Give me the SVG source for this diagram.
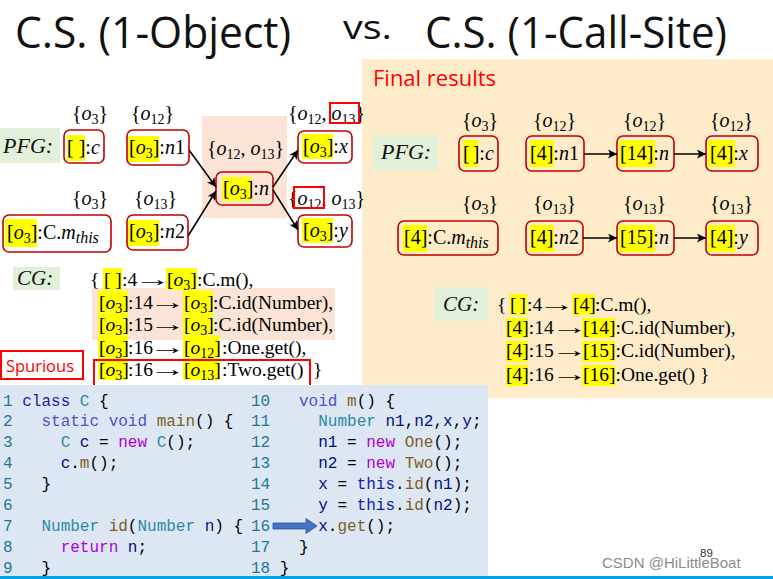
<svg xmlns="http://www.w3.org/2000/svg" width="773" height="579" viewBox="0 0 773 579">
<defs>
<style>
.t{font-family:"Open Sans","Liberation Sans",sans-serif;fill:#111}
.m{font-family:"Liberation Serif",serif;font-size:20px;fill:#000}
.cg{font-family:"Liberation Serif",serif;font-size:19.5px;fill:#000}
.i{font-style:italic}
.s{font-size:14px}
.nd{fill:none;stroke:#C00000;stroke-width:1.6}
.hl{fill:#FFFF00}
.rb{fill:none;stroke:#FF0000;stroke-width:2}
.lbl{font-family:"Liberation Serif",serif;font-style:italic;fill:#111}
.code{font-family:"Liberation Mono",monospace;font-size:16px;fill:#000;white-space:pre}
.ln{fill:#237893}.kw{fill:#1A1AA8}.kw2{fill:#5252C4}.ty{fill:#2B8AA3}.ctl{fill:#AF00DB}.fn{fill:#795E26}.v{fill:#001080}
.edge{stroke:#000;stroke-width:1.5;fill:none;marker-end:url(#ah)}
</style>
<marker id="ah" viewBox="0 0 10 10" refX="10" refY="5" markerWidth="9" markerHeight="9" markerUnits="userSpaceOnUse" orient="auto"><path d="M0,0 L10,5 L0,10 L2.5,5 z" fill="#000"/></marker>
</defs>
<rect width="773" height="579" fill="#fff"/>

<!-- Titles -->
<g id="title">
<text class="t" x="15" y="48" font-size="43" textLength="276" lengthAdjust="spacingAndGlyphs">C.S. (1-Object)</text>
<text class="t" x="343" y="39" font-size="33" textLength="49" lengthAdjust="spacingAndGlyphs">vs.</text>
<text class="t" x="425" y="48" font-size="43" textLength="302" lengthAdjust="spacingAndGlyphs">C.S. (1-Call-Site)</text>
</g>

<!-- panels -->
<rect x="362" y="59" width="411" height="339" fill="#FDEBC9"/>
<rect x="202" y="116" width="85" height="102" fill="#FBE4D5"/>
<rect x="92" y="288" width="243" height="52" fill="#FBE4D5"/>
<text class="t" x="373" y="86" font-size="22" style="fill:#FF0000" textLength="123" lengthAdjust="spacingAndGlyphs">Final results</text>

<!-- Left PFG -->
<g id="left-pfg-label"><rect x="0" y="128" width="60" height="35" fill="#E2F0D9"/><text class="lbl" x="3" y="153" font-size="22">PFG:</text></g>
<g id="L-c"><rect class="hl" x="67" y="135" width="18" height="26"/><rect class="nd" x="64" y="130" width="40" height="33" rx="6"/><text class="m" x="67" y="154">[ ]:<tspan class="i">c</tspan></text>
<text class="m" x="72" y="120">{<tspan class="i">o</tspan><tspan class="s" dy="4">3</tspan><tspan dy="-4">}</tspan></text></g>
<g id="L-n1"><rect class="hl" x="128" y="136" width="31" height="26"/><rect class="nd" x="127" y="130" width="62" height="35" rx="6"/><text class="m" x="129" y="154">[<tspan class="i">o</tspan><tspan class="s" dy="4">3</tspan><tspan dy="-4">]:</tspan><tspan class="i">n</tspan>1</text>
<text class="m" x="131" y="120">{<tspan class="i">o</tspan><tspan class="s" dy="4">12</tspan><tspan dy="-4">}</tspan></text></g>
<g id="L-this"><rect class="hl" x="5" y="219" width="32" height="28"/><rect class="nd" x="3" y="215" width="108" height="37" rx="6"/><text class="m" x="7" y="239">[<tspan class="i">o</tspan><tspan class="s" dy="4">3</tspan><tspan dy="-4">]:C.</tspan><tspan class="i">m</tspan><tspan class="i" font-size="16" dy="4">this</tspan></text>
<text class="m" x="72" y="205">{<tspan class="i">o</tspan><tspan class="s" dy="4">3</tspan><tspan dy="-4">}</tspan></text></g>
<g id="L-n2"><rect class="hl" x="128" y="220" width="31" height="26"/><rect class="nd" x="127" y="215" width="61" height="35" rx="6"/><text class="m" x="129" y="238">[<tspan class="i">o</tspan><tspan class="s" dy="4">3</tspan><tspan dy="-4">]:</tspan><tspan class="i">n</tspan>2</text>
<text class="m" x="134" y="205">{<tspan class="i">o</tspan><tspan class="s" dy="4">13</tspan><tspan dy="-4">}</tspan></text></g>
<g id="L-n"><rect class="hl" x="222" y="177" width="30" height="24"/><rect class="nd" x="216" y="172" width="57" height="33" rx="6"/><text class="m" x="223" y="195">[<tspan class="i">o</tspan><tspan class="s" dy="4">3</tspan><tspan dy="-4">]:</tspan><tspan class="i">n</tspan></text>
<text class="m" x="207" y="155">{<tspan class="i">o</tspan><tspan class="s" dy="4">12</tspan><tspan dy="-4">, </tspan><tspan class="i">o</tspan><tspan class="s" dy="4">13</tspan><tspan dy="-4">}</tspan></text></g>
<g id="L-x"><rect class="hl" x="302" y="134" width="31" height="25"/><rect class="nd" x="298" y="131" width="54" height="32" rx="6"/><text class="m" x="303" y="153">[<tspan class="i">o</tspan><tspan class="s" dy="4">3</tspan><tspan dy="-4">]:</tspan><tspan class="i">x</tspan></text>
<text class="m" x="288" y="120">{<tspan class="i">o</tspan><tspan class="s" dy="4">12</tspan><tspan dy="-4">, </tspan><tspan class="i">o</tspan><tspan class="s" dy="4">13</tspan><tspan dy="-4">}</tspan></text>
<rect class="rb" x="330" y="103" width="29" height="20"/></g>
<g id="L-y"><rect class="hl" x="302" y="218" width="31" height="25"/><rect class="nd" x="298" y="215" width="54" height="32" rx="6"/><text class="m" x="303" y="237">[<tspan class="i">o</tspan><tspan class="s" dy="4">3</tspan><tspan dy="-4">]:</tspan><tspan class="i">y</tspan></text>
<text class="m" x="288" y="205">{<tspan class="i">o</tspan><tspan class="s" dy="4">12</tspan><tspan dy="-4">, </tspan><tspan class="i">o</tspan><tspan class="s" dy="4">13</tspan><tspan dy="-4">}</tspan></text>
<rect class="rb" x="294" y="187" width="30" height="21"/></g>

<!-- Right PFG -->
<g id="right-pfg-label"><rect x="373" y="135" width="65" height="35" fill="#E2F0D9"/><text class="lbl" x="381" y="159" font-size="22">PFG:</text></g>
<g id="R-c"><rect class="hl" x="463" y="140" width="15" height="27"/><rect class="nd" x="459" y="136" width="39" height="35" rx="6"/><text class="m" x="463" y="160">[<tspan font-size="12"> </tspan>]:<tspan class="i">c</tspan></text>
<text class="m" x="462" y="127">{<tspan class="i">o</tspan><tspan class="s" dy="4">3</tspan><tspan dy="-4">}</tspan></text></g>
<g id="R-n1"><rect class="hl" x="530" y="140" width="24" height="27"/><rect class="nd" x="526" y="136" width="58" height="35" rx="6"/><text class="m" x="530" y="160">[4]:<tspan class="i">n</tspan>1</text>
<text class="m" x="533" y="127">{<tspan class="i">o</tspan><tspan class="s" dy="4">12</tspan><tspan dy="-4">}</tspan></text></g>
<g id="R-n14"><rect class="hl" x="619" y="140" width="36" height="27"/><rect class="nd" x="617" y="136" width="57" height="35" rx="6"/><text class="m" x="620" y="160">[14]:<tspan class="i">n</tspan></text>
<text class="m" x="623" y="127">{<tspan class="i">o</tspan><tspan class="s" dy="4">12</tspan><tspan dy="-4">}</tspan></text></g>
<g id="R-x"><rect class="hl" x="708" y="140" width="27" height="27"/><rect class="nd" x="706" y="136" width="52" height="35" rx="6"/><text class="m" x="710" y="160">[4]:<tspan class="i">x</tspan></text>
<text class="m" x="710" y="127">{<tspan class="i">o</tspan><tspan class="s" dy="4">12</tspan><tspan dy="-4">}</tspan></text></g>
<g id="R-this"><rect class="hl" x="403" y="225" width="24" height="27"/><rect class="nd" x="398" y="221" width="100" height="34" rx="6"/><text class="m" x="404" y="244">[4]:C.<tspan class="i">m</tspan><tspan class="i" font-size="16" dy="4">this</tspan></text>
<text class="m" x="462" y="210">{<tspan class="i">o</tspan><tspan class="s" dy="4">3</tspan><tspan dy="-4">}</tspan></text></g>
<g id="R-n2"><rect class="hl" x="530" y="225" width="24" height="27"/><rect class="nd" x="526" y="221" width="57" height="34" rx="6"/><text class="m" x="530" y="244">[4]:<tspan class="i">n</tspan>2</text>
<text class="m" x="533" y="210">{<tspan class="i">o</tspan><tspan class="s" dy="4">13</tspan><tspan dy="-4">}</tspan></text></g>
<g id="R-n15"><rect class="hl" x="619" y="225" width="36" height="27"/><rect class="nd" x="617" y="221" width="57" height="34" rx="6"/><text class="m" x="620" y="244">[15]:<tspan class="i">n</tspan></text>
<text class="m" x="623" y="210">{<tspan class="i">o</tspan><tspan class="s" dy="4">13</tspan><tspan dy="-4">}</tspan></text></g>
<g id="R-y"><rect class="hl" x="708" y="225" width="27" height="27"/><rect class="nd" x="706" y="221" width="52" height="34" rx="6"/><text class="m" x="710" y="244">[4]:<tspan class="i">y</tspan></text>
<text class="m" x="710" y="210">{<tspan class="i">o</tspan><tspan class="s" dy="4">13</tspan><tspan dy="-4">}</tspan></text></g>

<!-- connectors -->
<g id="connectors">
<line class="edge" x1="189" y1="150" x2="216" y2="187"/>
<line class="edge" x1="188" y1="236" x2="216" y2="191"/>
<line class="edge" x1="273" y1="187" x2="298" y2="150"/>
<line class="edge" x1="273" y1="190" x2="298" y2="230"/>
<line class="edge" x1="584" y1="154" x2="617" y2="154"/>
<line class="edge" x1="674" y1="154" x2="706" y2="154"/>
<line class="edge" x1="583" y1="238" x2="617" y2="238"/>
<line class="edge" x1="674" y1="238" x2="706" y2="238"/>
</g>

<!-- Left CG -->
<g id="left-cg">
<rect x="13" y="267" width="47" height="23" fill="#E2F0D9"/><text class="lbl" x="17" y="285" font-size="21">CG:</text>
<rect class="hl" x="103" y="268" width="19" height="22"/><rect class="hl" x="166" y="268" width="31" height="22"/>
<rect class="hl" x="98" y="290.5" width="30" height="22"/><rect class="hl" x="183" y="290.5" width="30" height="22"/>
<rect class="hl" x="98" y="313" width="30" height="22"/><rect class="hl" x="183" y="313" width="30" height="22"/>
<rect class="hl" x="98" y="335.5" width="30" height="22"/><rect class="hl" x="183" y="335.5" width="37" height="22"/>
<rect class="hl" x="98" y="358" width="30" height="22"/><rect class="hl" x="183" y="358" width="37" height="22"/>
<text class="cg" x="90" y="286">{</text><text class="cg" x="104" y="286">[ ]</text><text class="cg" x="122" y="286">:4</text><text class="cg" transform="translate(134,286) scale(1.9,1)">→</text><text class="cg" x="167" y="286">[<tspan class="i">o</tspan><tspan class="s" dy="4">3</tspan><tspan dy="-4">]</tspan></text><text class="cg" x="197" y="286">:C.m(),</text>
<text class="cg" x="99" y="308.5">[<tspan class="i">o</tspan><tspan class="s" dy="4">3</tspan><tspan dy="-4">]</tspan></text><text class="cg" x="128" y="308.5">:14</text><text class="cg" transform="translate(149,308.5) scale(1.9,1)">→</text><text class="cg" x="184" y="308.5">[<tspan class="i">o</tspan><tspan class="s" dy="4">3</tspan><tspan dy="-4">]</tspan></text><text class="cg" x="213" y="308.5">:C.id(Number),</text>
<text class="cg" x="99" y="331">[<tspan class="i">o</tspan><tspan class="s" dy="4">3</tspan><tspan dy="-4">]</tspan></text><text class="cg" x="128" y="331">:15</text><text class="cg" transform="translate(149,331) scale(1.9,1)">→</text><text class="cg" x="184" y="331">[<tspan class="i">o</tspan><tspan class="s" dy="4">3</tspan><tspan dy="-4">]</tspan></text><text class="cg" x="213" y="331">:C.id(Number),</text>
<text class="cg" x="99" y="353.5">[<tspan class="i">o</tspan><tspan class="s" dy="4">3</tspan><tspan dy="-4">]</tspan></text><text class="cg" x="128" y="353.5">:16</text><text class="cg" transform="translate(149,353.5) scale(1.9,1)">→</text><text class="cg" x="184" y="353.5">[<tspan class="i">o</tspan><tspan class="s" dy="4">12</tspan><tspan dy="-4">]</tspan></text><text class="cg" x="222" y="353.5">:One.get(),</text>
<text class="cg" x="99" y="376">[<tspan class="i">o</tspan><tspan class="s" dy="4">3</tspan><tspan dy="-4">]</tspan></text><text class="cg" x="128" y="376">:16</text><text class="cg" transform="translate(149,376) scale(1.9,1)">→</text><text class="cg" x="184" y="376">[<tspan class="i">o</tspan><tspan class="s" dy="4">13</tspan><tspan dy="-4">]</tspan></text><text class="cg" x="222" y="376">:Two.get()</text><text class="cg" x="313" y="376">}</text>
<rect class="rb" x="94" y="360" width="216" height="27"/>
</g>
<g id="spurious"><rect class="rb" x="1" y="351" width="82" height="28"/><text class="t" x="6" y="372" font-size="17" style="fill:#FF0000" textLength="68" lengthAdjust="spacingAndGlyphs">Spurious</text></g>

<!-- Right CG -->
<g id="right-cg">
<rect x="434" y="287" width="54" height="34" fill="#E2F0D9"/><text class="lbl" x="443" y="311" font-size="21">CG:</text>
<rect class="hl" x="510" y="294" width="17" height="21"/><rect class="hl" x="572" y="294" width="23" height="21"/>
<rect class="hl" x="506" y="318" width="22" height="20"/><rect class="hl" x="582" y="318" width="33" height="20"/>
<rect class="hl" x="506" y="341" width="22" height="21"/><rect class="hl" x="582" y="341" width="33" height="21"/>
<rect class="hl" x="506" y="365" width="22" height="21"/><rect class="hl" x="582" y="365" width="33" height="21"/>
<text class="cg" x="497" y="311">{</text><text class="cg" x="510" y="311">[<tspan font-size="12"> </tspan>]</text><text class="cg" x="527" y="311">:4</text><text class="cg" transform="translate(538,311) scale(1.9,1)">→</text><text class="cg" x="573" y="311">[4]</text><text class="cg" x="595" y="311">:C.m(),</text>
<text class="cg" x="506" y="334">[4]:14</text><text class="cg" transform="translate(551,334) scale(1.9,1)">→</text><text class="cg" x="583" y="334">[14]:C.id(Number),</text>
<text class="cg" x="506" y="357">[4]:15</text><text class="cg" transform="translate(551,357) scale(1.9,1)">→</text><text class="cg" x="583" y="357">[15]:C.id(Number),</text>
<text class="cg" x="506" y="381">[4]:16</text><text class="cg" transform="translate(551,381) scale(1.9,1)">→</text><text class="cg" x="583" y="381">[16]:One.get() }</text>
</g>

<!-- Code -->
<g id="code">
<rect x="0" y="385" width="488" height="192" fill="#DDE7F4"/>
<text class="code" x="3" y="405.5" xml:space="preserve"><tspan class="ln">1</tspan> <tspan class="kw">class</tspan> <tspan class="ty">C</tspan> {</text>
<text class="code" x="3" y="426.4" xml:space="preserve"><tspan class="ln">2</tspan>   <tspan class="kw2">static</tspan> <tspan class="kw2">void</tspan> <tspan class="fn">main</tspan>() {</text>
<text class="code" x="3" y="447.4" xml:space="preserve"><tspan class="ln">3</tspan>     <tspan class="ty">C</tspan> <tspan class="v">c</tspan> = <tspan class="ctl">new</tspan> <tspan class="ty">C</tspan>();</text>
<text class="code" x="3" y="468.3" xml:space="preserve"><tspan class="ln">4</tspan>     <tspan class="v">c</tspan>.<tspan class="fn">m</tspan>();</text>
<text class="code" x="3" y="489.3" xml:space="preserve"><tspan class="ln">5</tspan>   }</text>
<text class="code" x="3" y="510.2" xml:space="preserve"><tspan class="ln">6</tspan></text>
<text class="code" x="3" y="531.1" xml:space="preserve"><tspan class="ln">7</tspan>   <tspan class="ty">Number</tspan> <tspan class="fn">id</tspan>(<tspan class="ty">Number</tspan> <tspan class="v">n</tspan>) {</text>
<text class="code" x="3" y="552.1" xml:space="preserve"><tspan class="ln">8</tspan>     <tspan class="ctl">return</tspan> <tspan class="v">n</tspan>;</text>
<text class="code" x="3" y="573" xml:space="preserve"><tspan class="ln">9</tspan>   }</text>
<text class="code" x="251" y="405.5" xml:space="preserve"><tspan class="ln">10</tspan>   <tspan class="kw2">void</tspan> <tspan class="fn">m</tspan>() {</text>
<text class="code" x="251" y="426.4" xml:space="preserve"><tspan class="ln">11</tspan>     <tspan class="ty">Number</tspan> <tspan class="v">n1</tspan>,<tspan class="v">n2</tspan>,<tspan class="v">x</tspan>,<tspan class="v">y</tspan>;</text>
<text class="code" x="251" y="447.4" xml:space="preserve"><tspan class="ln">12</tspan>     <tspan class="v">n1</tspan> = <tspan class="ctl">new</tspan> <tspan class="fn">One</tspan>();</text>
<text class="code" x="251" y="468.3" xml:space="preserve"><tspan class="ln">13</tspan>     <tspan class="v">n2</tspan> = <tspan class="ctl">new</tspan> <tspan class="fn">Two</tspan>();</text>
<text class="code" x="251" y="489.3" xml:space="preserve"><tspan class="ln">14</tspan>     <tspan class="v">x</tspan> = <tspan class="kw">this</tspan>.<tspan class="fn">id</tspan>(<tspan class="v">n1</tspan>);</text>
<text class="code" x="251" y="510.2" xml:space="preserve"><tspan class="ln">15</tspan>     <tspan class="v">y</tspan> = <tspan class="kw">this</tspan>.<tspan class="fn">id</tspan>(<tspan class="v">n2</tspan>);</text>
<text class="code" x="251" y="531.1" xml:space="preserve"><tspan class="ln">16</tspan>     <tspan class="v">x</tspan>.<tspan class="fn">get</tspan>();</text>
<text class="code" x="251" y="552.1" xml:space="preserve"><tspan class="ln">17</tspan>   }</text>
<text class="code" x="251" y="573" xml:space="preserve"><tspan class="ln">18</tspan> }</text>
<path d="M273,523 H306 V518.5 L317,526 L306,533.5 V529 H273 Z" fill="#4472C4" stroke="#2F5597" stroke-width="0.8"/>
</g>

<!-- footer -->
<rect x="0" y="576" width="773" height="3" fill="#00A2E8"/>
<text x="602" y="568" font-family="Liberation Sans, sans-serif" font-size="15" fill="#8C8C8C">CSDN @HiLittleBoat</text>
<text x="700" y="557" font-family="Liberation Sans, sans-serif" font-size="11.5" fill="#333">89</text>
</svg>
